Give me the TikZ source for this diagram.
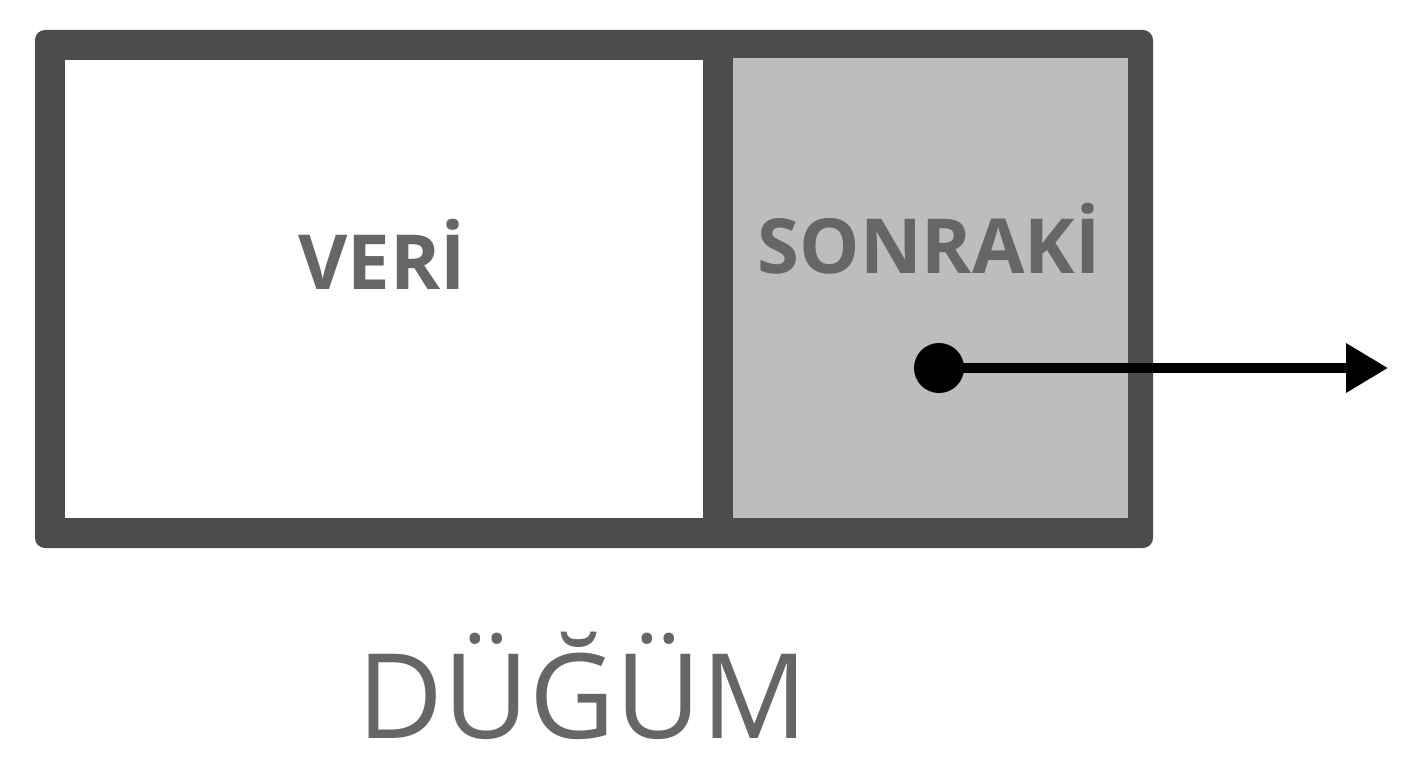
\documentclass[tikz,border=0pt]{standalone}
\usepackage{fontspec}
\setmainfont{Open Sans}
\usetikzlibrary{arrows.meta}
\definecolor{framegray}{RGB}{76,76,76}
\definecolor{cellgray}{RGB}{189,189,189}
\definecolor{textgray}{RGB}{102,102,102}
\tikzset{
  celltext/.style={anchor=base, text=textgray, inner sep=0pt, font=\fontsize{76}{76}\selectfont\bfseries},
  captiontext/.style={anchor=base, text=textgray, inner sep=0pt, font=\fontsize{118}{118}\selectfont},
  pointer/.style={line width=10pt, -{Triangle[length=42pt,width=47pt]}}
}
\begin{document}
\begin{tikzpicture}[x=1pt,y=1pt,yscale=-1,xscale=1]
\useasboundingbox (0,0) rectangle (1408,768);
\fill [white] (0,0) rectangle (1408,768);

%Shape: Rectangle [frame]
\fill [framegray, rounded corners=10pt] (35,30) rectangle (1153,548);
%Shape: Rectangle [data cell]
\fill [white] (65,60) rectangle (703,518);
%Shape: Rectangle [next cell]
\fill [cellgray] (733,58) rectangle (1128,518);

% Text Node
\node [celltext] (veri) at (382,289) {VERİ};
% Text Node
\node [celltext] (sonraki) at (929,273) {SONRAKİ};

%Shape: Circle [pointer dot]
\node [circle, fill=black, minimum size=50pt, inner sep=0pt] (dot) at (939,368) {};
\coordinate (target) at (1388,368);
\draw [pointer] (dot.center) -- (target);

% Text Node
\node [captiontext] (dugum) at (583,738) {DÜĞÜM};

\end{tikzpicture}
\end{document}
